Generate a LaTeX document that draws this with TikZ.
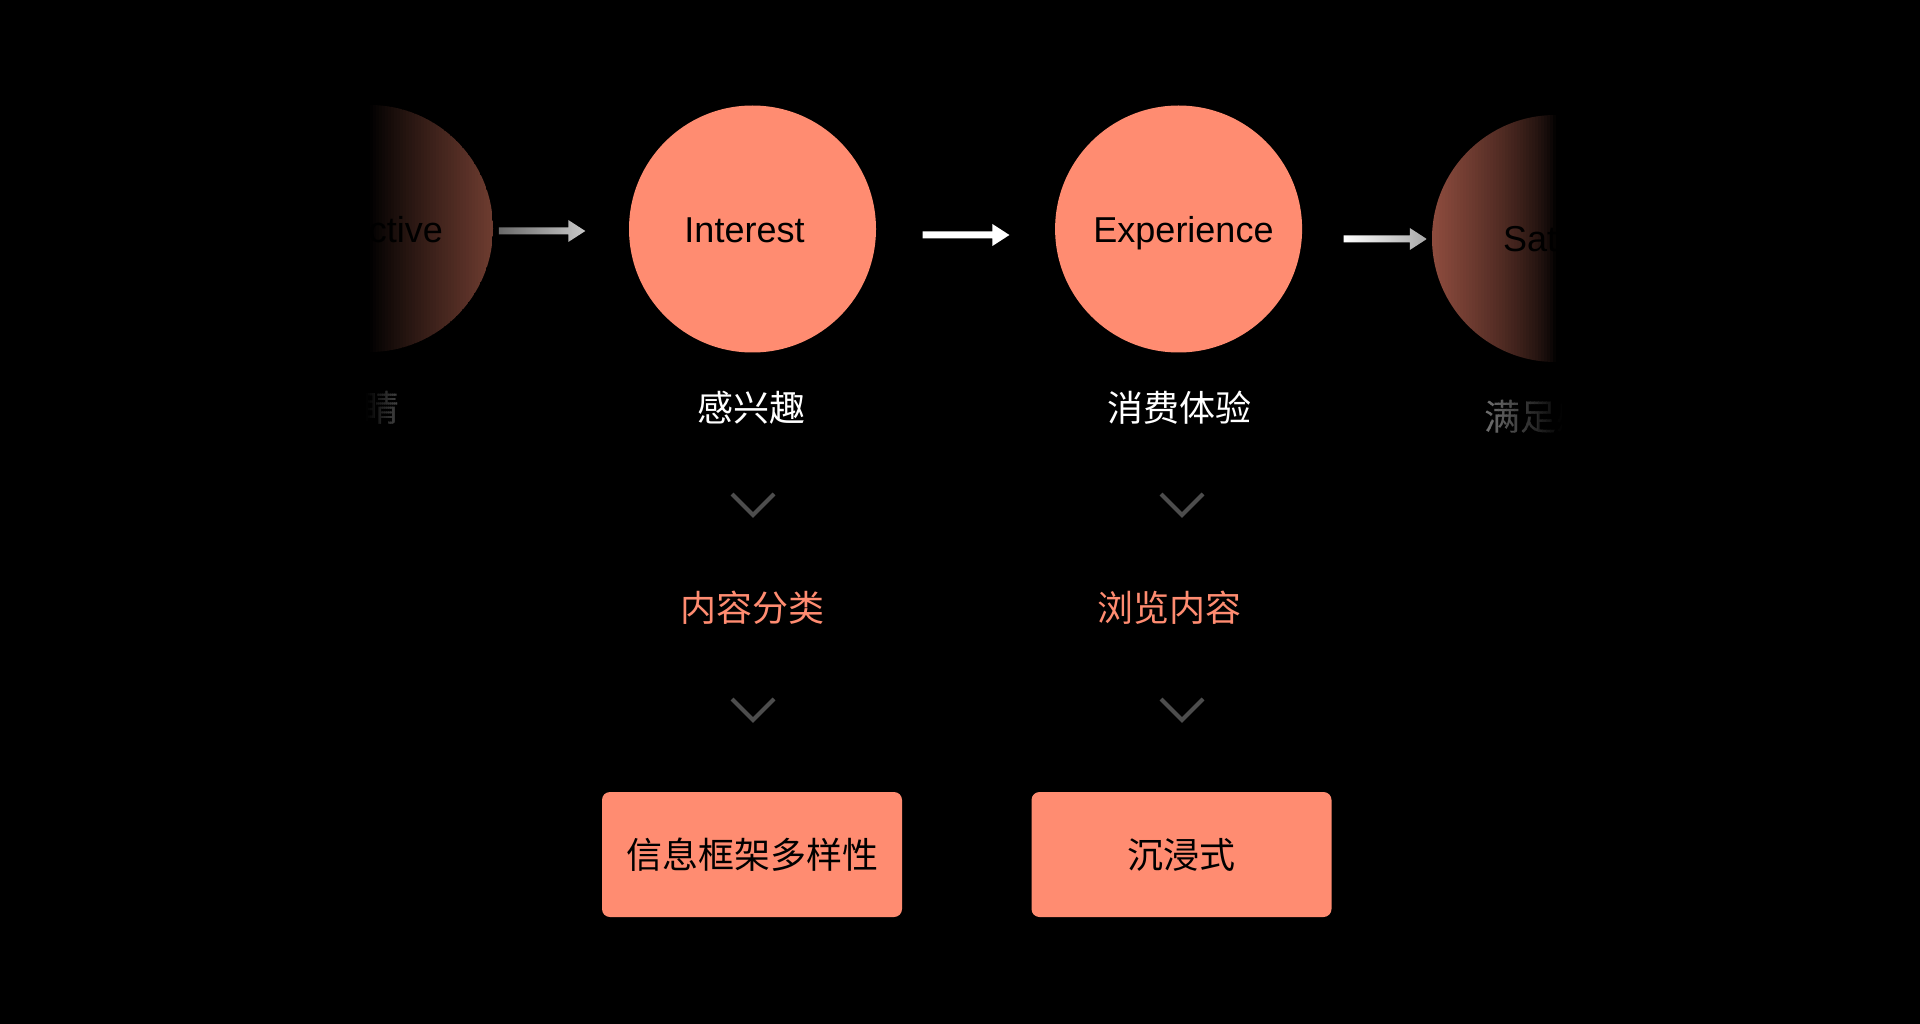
\documentclass[tikz,border=0pt]{standalone}
\usepackage{fontspec}
\setmainfont{Liberation Sans}
\newfontfamily\cjk{Noto Sans CJK SC}
\usetikzlibrary{calc}
\definecolor{salmon}{HTML}{FF8C71}
\definecolor{leftc}{HTML}{6E3C30}
\definecolor{rightc}{HTML}{8E4C3E}
\definecolor{chevc}{HTML}{4D4D4D}
\definecolor{arrA}{HTML}{6A6A6A}
\definecolor{arrB}{HTML}{C8C8C8}
\definecolor{arrC}{HTML}{A8A8A8}
\newcommand\fatarrow[3]{\shade[#1] let \p1=(#2), \p2=(#3) in
  (\x1,\y1+3.5pt) -- (\x2-17pt,\y1+3.5pt) -- (\x2-17pt,\y1+11pt) -- (\x2,\y1)
  -- (\x2-17pt,\y1-11pt) -- (\x2-17pt,\y1-3.5pt) -- (\x1,\y1-3.5pt) -- cycle;}
\begin{document}
\begin{tikzpicture}[x=1pt,y=-1pt,
  lat/.style={font=\fontsize{36}{40}\selectfont, text=black, inner sep=0pt, anchor=base},
  cjkt/.style={font=\cjk\fontsize{36}{40}\selectfont, inner sep=0pt, anchor=base},
  stage/.style={circle, minimum size=247pt, inner sep=0pt},
  chev/.style={draw=chevc, line width=4pt},
  box/.style={fill=salmon, rounded corners=8pt, minimum width=300pt, minimum height=125pt,
    inner sep=0pt, font=\cjk\fontsize{36}{40}\selectfont, text=black}]
\fill[black] (0,0) rectangle (1920,1024);
\useasboundingbox (0,0) rectangle (1920,1024);

% circles
\node[stage] (att) at (369.5,228.5) {};
\node[stage, fill=salmon] (int) at (752.5,229) {};
\node[stage, fill=salmon] (exp) at (1178.6,229) {};
\node[stage] (sat) at (1555.5,238.5) {};
\begin{scope}
  \clip (att.center) circle (123.5);
  \foreach \i in {0,...,41} {
    \pgfmathsetmacro\xa{369.5+3*\i}
    \pgfmathsetmacro\pc{100*(max(0,min(1,(\xa+1.5-369.5)/123.5)))^0.9}
    \fill[leftc!\pc!black] (\xa,100) rectangle (\xa+3.3,360);
  }
\end{scope}
\begin{scope}
  \clip (sat.center) circle (123.5);
  \foreach \i in {0,...,41} {
    \pgfmathsetmacro\xa{1430+3*\i}
    \pgfmathsetmacro\pc{100*(max(0,min(1,(1555.5-\xa-1.5)/123.5)))^0.7}
    \fill[rightc!\pc!black] (\xa,110) rectangle (\xa+3.3,370);
  }
\end{scope}

% circle labels
\node[lat, anchor=base east] (tatt) at (443,243) {ctive};
\node[lat] (tint) at (744.5,243) {Interest};
\node[lat] (texp) at (1183.5,243) {Experience};
\node[lat, anchor=base west] (tsat) at (1503,252) {Sati};

% arrows
\coordinate (a1s) at ($(att.east)+(5.6,2.5)$);
\coordinate (a1e) at ($(int.west)+(-43.5,2)$);
\coordinate (a2s) at ($(int.east)+(46.5,6)$);
\coordinate (a2e) at ($(exp.west)+(-45.5,6)$);
\coordinate (a3s) at ($(exp.east)+(41.4,10)$);
\coordinate (a3e) at ($(sat.west)+(-5,0.5)$);
\fatarrow{left color=arrA, right color=arrB}{a1s}{a1e}
\fill[white] let \p1=(a2s), \p2=(a2e) in
  (\x1,\y1+3.5pt) -- (\x2-17pt,\y1+3.5pt) -- (\x2-17pt,\y1+11pt) -- (\x2,\y1)
  -- (\x2-17pt,\y1-11pt) -- (\x2-17pt,\y1-3.5pt) -- (\x1,\y1-3.5pt) -- cycle;
\fatarrow{left color=white, right color=arrC}{a3s}{a3e}

% chinese stage names (faded ones drawn in thin strips)
\foreach \i in {0,...,19} {
  \pgfmathsetmacro\xa{360+2*\i}
  \pgfmathsetmacro\pc{max(0,min(25,(\xa+1-366)/31*25))}
  \begin{scope}
  \clip (\xa,380) rectangle (\xa+2.2,440);
  \node[cjkt, text=white!\pc!black] (catt\i) at (381,421) {睛};
  \end{scope}
}
\foreach \i in {0,...,21} {
  \pgfmathsetmacro\xa{1478+4*\i}
  \pgfmathsetmacro\pc{max(0,min(44,(1562-\xa-2)/76*44))}
  \begin{scope}
  \clip (\xa,385) rectangle (\xa+4.2,450);
  \node[cjkt, text=white!\pc!black, anchor=base west] (csat\i) at (1484,430) {满足感};
  \end{scope}
}
\node[cjkt, text=white] (cint) at (751.5,421) {感兴趣};
\node[cjkt, text=white] (cexp) at (1179,421) {消费体验};

% chevrons
\draw[chev] (732,494) -- (753,515) -- (774,494);
\draw[chev] (732,699) -- (753,720) -- (774,699);
\draw[chev] (1161,494) -- (1182,515) -- (1203,494);
\draw[chev] (1161,699) -- (1182,720) -- (1203,699);

% middle labels
\node[cjkt, text=salmon] (mint) at (752.5,621) {内容分类};
\node[cjkt, text=salmon] (mexp) at (1169.5,621) {浏览内容};

% boxes
\node[box] (bint) at (752,854.5) {信息框架多样性};
\node[box] (bexp) at (1181.5,854.5) {沉浸式};
\end{tikzpicture}
\end{document}
